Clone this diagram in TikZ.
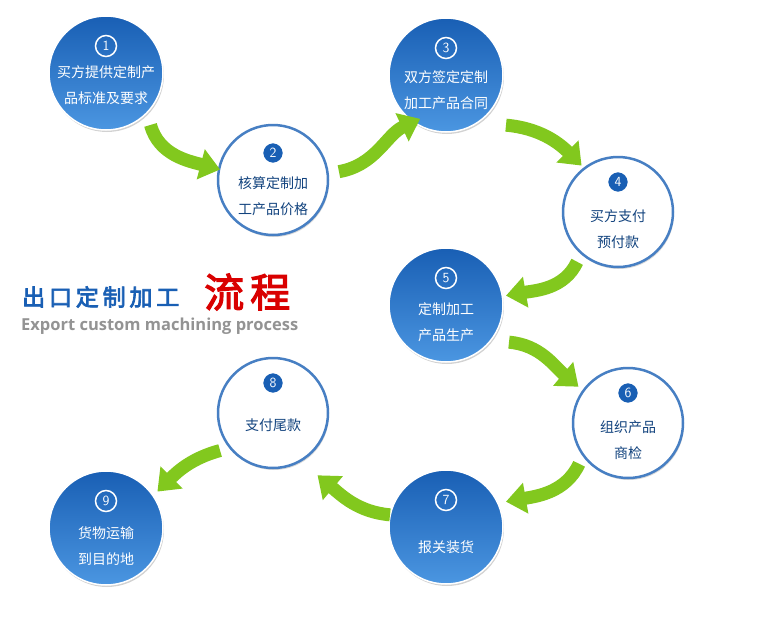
\documentclass[tikz,border=0pt]{standalone}
\usepackage{fontspec}
\newfontfamily\cjk{Noto Sans CJK SC}
\newfontfamily\cjkb{Noto Sans CJK SC}[FakeBold=3]
\newfontfamily\latinb{Open Sans}
\usetikzlibrary{arrows.meta,shadows,calc}
\definecolor{bdark}{RGB}{25,95,180}
\definecolor{blight}{RGB}{75,150,225}
\definecolor{gar}{RGB}{130,200,30}
\begin{document}
\begin{tikzpicture}[x=1pt,y=1pt,font=\cjk,
  bc/.style={circle,minimum size=114pt,inner sep=0pt,top color=bdark,bottom color=blight,draw=white,line width=1.5pt,drop shadow={opacity=0.35,shadow xshift=1pt,shadow yshift=-2pt},text=white},
  wc/.style={circle,minimum size=110pt,inner sep=0pt,fill=white,draw=bdark!80,line width=2.5pt,drop shadow={opacity=0.3,shadow xshift=1pt,shadow yshift=-2pt},text=bdark!70!black},
  nb/.style={circle,minimum size=21pt,inner sep=0pt,draw=white,line width=1.5pt,font=\sffamily\fontsize{14}{14}\selectfont,text=white},
  nw/.style={nb,fill=bdark},
  lb/.style={font=\cjk\fontsize{14}{26}\selectfont,align=center},
  ga/.style={draw=gar,line width=13pt,-{Triangle[width=30pt,length=20pt]},shorten <=2pt,shorten >=2pt}]
\useasboundingbox (0,0) rectangle (765,-629);
\fill[white] (0,0) rectangle (765,-629);
% circles
\node[bc] (c1) at (106,-73) {};
\node[wc] (c2) at (273,-180) {};
\node[bc] (c3) at (446,-75) {};
\node[wc] (c4) at (618,-212) {};
\node[bc] (c5) at (446,-305) {};
\node[wc] (c6) at (628,-423) {};
\node[bc] (c7) at (446,-527) {};
\node[wc] (c8) at (273,-413) {};
\node[bc] (c9) at (106,-528) {};
% numbers
\node[nb] (n1) at ($(c1)+(0,27)$) {1};
\node[nw] (n2) at ($(c2)+(0,27)$) {2};
\node[nb] (n3) at ($(c3)+(0,27)$) {3};
\node[nw] (n4) at ($(c4)+(0,30)$) {4};
\node[nb] (n5) at ($(c5)+(0,27)$) {5};
\node[nw] (n6) at ($(c6)+(0,30)$) {6};
\node[nb] (n7) at ($(c7)+(0,27)$) {7};
\node[nw] (n8) at ($(c8)+(0,30)$) {8};
\node[nb] (n9) at ($(c9)+(0,27)$) {9};
% labels
\node[lb,text=white] (t1) at ($(c1)+(0,-12)$) {买方提供定制产\\品标准及要求};
\node[lb,text=bdark!70!black] (t2) at ($(c2)+(0,-16)$) {核算定制加\\工产品价格};
\node[lb,text=white] (t3) at ($(c3)+(0,-15)$) {双方签定定制\\加工产品合同};
\node[lb,text=bdark!70!black] (t4) at ($(c4)+(0,-17)$) {买方支付\\预付款};
\node[lb,text=white] (t5) at ($(c5)+(0,-17)$) {定制加工\\产品生产};
\node[lb,text=bdark!70!black] (t6) at ($(c6)+(0,-17)$) {组织产品\\商检};
\node[lb,text=white] (t7) at ($(c7)+(0,-20)$) {报关装货};
\node[lb,text=bdark!70!black] (t8) at ($(c8)+(0,-12)$) {支付尾款};
\node[lb,text=white] (t9) at ($(c9)+(0,-18)$) {货物运输\\到目的地};
% arrows
\coordinate (a1s) at (150,-123); \coordinate (a1e) at (222,-170);
\coordinate (a2s) at (337,-172); \coordinate (a2e) at (422,-118);
\coordinate (a3s) at (504,-125); \coordinate (a3e) at (583,-167);
\coordinate (a4s) at (578,-260); \coordinate (a4e) at (504,-296);
\coordinate (a5s) at (507,-342); \coordinate (a5e) at (580,-388);
\coordinate (a6s) at (580,-462); \coordinate (a6e) at (504,-502);
\coordinate (a7s) at (392,-515); \coordinate (a7e) at (316,-474);
\coordinate (a8s) at (222,-450); \coordinate (a8e) at (156,-493);
\draw[ga] (a1s) to[out=-75,in=165] (a1e);
\draw[ga] (a2s) to[out=10,in=205] (a2e);
\draw[ga] (a3s) to[out=-5,in=135] (a3e);
\draw[ga] (a4s) to[out=-115,in=10] (a4e);
\draw[ga] (a5s) to[out=-5,in=140] (a5e);
\draw[ga] (a6s) to[out=-115,in=10] (a6e);
\draw[ga] (a7s) to[out=175,in=-40] (a7e);
\draw[ga] (a8s) to[out=195,in=45] (a8e);
% title
\node[anchor=west,text=bdark,font=\cjkb\fontsize{23}{23}\selectfont,inner sep=0pt] (ti1) at (22,-297) {出\,口\,定\,制\,加\,工};
\node[anchor=west,text=red!85!black,font=\cjkb\fontsize{40}{40}\selectfont,inner sep=0pt] (ti2) at (204,-292) {流\hspace{6pt}程};
\node[anchor=west,text=gray!85,font=\latinb\bfseries\fontsize{16.5}{16.5}\selectfont,inner sep=0pt] (ti3) at (21,-326) {Export custom machining process};
\end{tikzpicture}
\end{document}
